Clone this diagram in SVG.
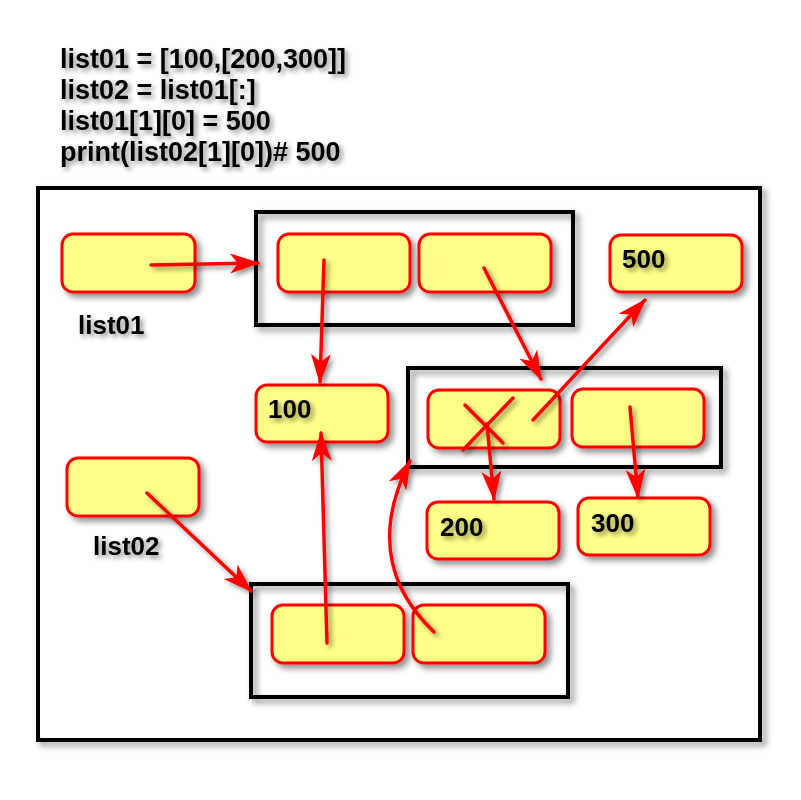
<svg xmlns="http://www.w3.org/2000/svg" width="801" height="800" viewBox="0 0 801 800">
<defs>
<filter id="sh" x="-20%" y="-20%" width="150%" height="160%">
<feDropShadow dx="4" dy="4" stdDeviation="3" flood-color="#000" flood-opacity="0.45"/>
</filter>
<filter id="tsh" x="-10%" y="-20%" width="130%" height="160%">
<feDropShadow dx="3" dy="3" stdDeviation="2.5" flood-color="#000" flood-opacity="0.45"/>
</filter>
<marker id="ah" viewBox="0 0 30 20" markerWidth="30" markerHeight="20" refX="28" refY="10" orient="auto" markerUnits="userSpaceOnUse">
<path d="M0,0 L30,10 L0,20 L8,10 Z" fill="#ff0000"/>
</marker>
</defs>
<style>
.node{fill:#ffff88;stroke:#ff0000;stroke-width:3;filter:url(#sh)}
.frame{fill:none;stroke:#000;stroke-width:4;filter:url(#sh)}
.t{font-family:"Liberation Sans",Arial,sans-serif;font-weight:bold;font-size:26px;fill:#000;filter:url(#tsh)}
.code{font-size:27px}
.c{fill:none;stroke:#ff0000;stroke-width:3.5;stroke-linecap:round}
.a{marker-end:url(#ah)}
</style>
<rect width="801" height="800" fill="#fff"/>
<g id="code">
<text class="t code" x="60" y="68">list01 = [100,[200,300]]</text>
<text class="t code" x="60" y="99">list02 = list01[:]</text>
<text class="t code" x="60" y="130">list01[1][0] = 500</text>
<text class="t code" x="60" y="161">print(list02[1][0])# 500</text>
</g>
<rect class="frame" x="38" y="188" width="722" height="552" fill="#fff"/>
<rect x="38" y="188" width="722" height="552" fill="#fff" stroke="#000" stroke-width="4"/>
<g id="container1"><rect class="frame" x="256" y="212" width="317" height="113"/></g>
<g id="container2"><rect class="frame" x="408" y="368" width="313" height="99"/></g>
<g id="container3"><rect class="frame" x="251" y="584" width="317" height="113"/></g>
<g id="list01"><rect class="node" x="62" y="234" width="133" height="58" rx="11"/><text class="t" x="78" y="334">list01</text></g>
<g id="list02"><rect class="node" x="67" y="458" width="132" height="58" rx="11"/><text class="t" x="93" y="555">list02</text></g>
<g id="a1"><rect class="node" x="278" y="234" width="132" height="58" rx="11"/></g>
<g id="a2"><rect class="node" x="419" y="234" width="132" height="58" rx="11"/></g>
<g id="n500"><rect class="node" x="610" y="235" width="132" height="57" rx="11"/><text class="t" x="622" y="268">500</text></g>
<g id="n100"><rect class="node" x="256" y="385" width="132" height="57" rx="11"/><text class="t" x="268" y="418">100</text></g>
<g id="b1"><rect class="node" x="428" y="390" width="132" height="58" rx="11"/></g>
<g id="b2"><rect class="node" x="572" y="389" width="132" height="58" rx="11"/></g>
<g id="n200"><rect class="node" x="427" y="502" width="132" height="57" rx="11"/><text class="t" x="440" y="536">200</text></g>
<g id="n300"><rect class="node" x="578" y="498" width="132" height="57" rx="11"/><text class="t" x="591" y="532">300</text></g>
<g id="c1"><rect class="node" x="272" y="605" width="132" height="58" rx="11"/></g>
<g id="c2"><rect class="node" x="413" y="605" width="132" height="58" rx="11"/></g>
<g id="connectors" filter="url(#tsh)">
<path class="c a" d="M151,265 L258,263"/>
<path class="c a" d="M324,260 L320,382"/>
<path class="c a" d="M484,268 L541,379"/>
<path class="c" d="M463,450 L513,398"/>
<path class="c" d="M465,405 L503,443"/>
<path class="c a" d="M533,420 L645,300"/>
<path class="c a" d="M487,424 L494,499"/>
<path class="c a" d="M630,407 L638,497"/>
<path class="c a" d="M147,493 L251,591"/>
<path class="c a" d="M327,643 L321,433"/>
<path class="c a" d="M434,632 C395,595 370,540 410,461"/>
</g>
</svg>
